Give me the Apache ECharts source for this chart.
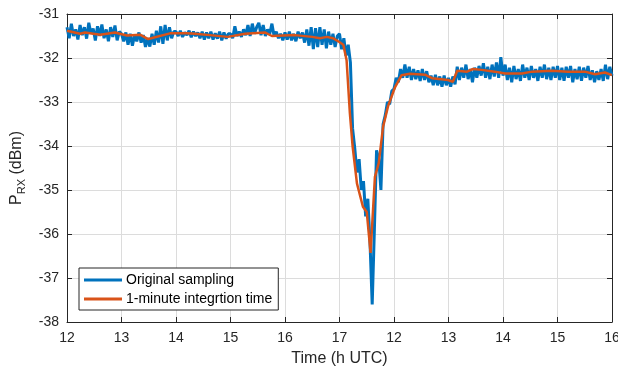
<!DOCTYPE html>
<html>
<head>
<meta charset="utf-8">
<script src="https://cdn.jsdelivr.net/npm/echarts@6/dist/echarts.min.js"></script>
<style>
html,body{margin:0;padding:0;background:#fff;}
#chart{width:618px;height:373px;}
</style>
</head>
<body>
<div id="chart"></div>
<script>
// Tick labels of the time axis (positions 0..10)
var xTickLabels = ['12','13','14','15','16','17','12','13','14','15','16'];
var yTicks = [-38,-37,-36,-35,-34,-33,-32,-31];

// Original sampling: values sampled every blueStep axis units starting at 0
var blueStep = 0.04;
var blueValues = [
 // 0.00 - 0.96
 -31.30,-31.55,-31.22,-31.50,-31.35,-31.58,-31.25,-31.48,-31.30,-31.56,-31.20,-31.45,-31.33,-31.60,-31.28,-31.50,-31.24,-31.55,-31.35,-31.62,-31.30,-31.52,-31.26,-31.60,-31.40,
 // 1.00 - 1.96
 -31.45,-31.62,-31.42,-31.70,-31.45,-31.72,-31.48,-31.62,-31.42,-31.65,-31.48,-31.75,-31.55,-31.74,-31.45,-31.70,-31.38,-31.65,-31.28,-31.68,-31.25,-31.60,-31.30,-31.55,-31.40,
 // 2.00 - 2.96
 -31.40,-31.50,-31.38,-31.52,-31.42,-31.48,-31.38,-31.53,-31.40,-31.50,-31.42,-31.55,-31.40,-31.58,-31.42,-31.55,-31.40,-31.58,-31.44,-31.56,-31.40,-31.60,-31.42,-31.56,-31.45,
 // 3.00 - 3.96
 -31.45,-31.55,-31.28,-31.50,-31.40,-31.52,-31.35,-31.48,-31.25,-31.50,-31.22,-31.45,-31.30,-31.20,-31.48,-31.25,-31.50,-31.35,-31.45,-31.22,-31.50,-31.40,-31.55,-31.45,-31.60,
 // 4.00 - 4.96
 -31.42,-31.58,-31.40,-31.60,-31.45,-31.62,-31.40,-31.55,-31.42,-31.65,-31.35,-31.72,-31.30,-31.80,-31.32,-31.75,-31.30,-31.70,-31.35,-31.78,-31.40,-31.70,-31.45,-31.75,-31.50,
 // 5.00 - 5.96
 -31.45,-31.80,-31.55,-31.95,-31.70,-32.10,-33.60,-34.05,-34.60,-34.30,-35.00,-34.80,-35.60,-35.20,-36.20,-37.60,-35.90,-34.10,-34.30,-35.00,-33.50,-33.30,-33.00,-33.05,-32.75,
 // 6.00 - 6.96
 -32.70,-32.45,-32.55,-32.25,-32.45,-32.15,-32.45,-32.20,-32.50,-32.25,-32.48,-32.28,-32.52,-32.25,-32.50,-32.30,-32.55,-32.40,-32.62,-32.38,-32.62,-32.42,-32.65,-32.40,-32.62,
 // 7.00 - 7.96
 -32.45,-32.65,-32.42,-32.60,-32.20,-32.50,-32.22,-32.45,-32.15,-32.48,-32.25,-32.55,-32.22,-32.45,-32.18,-32.40,-32.12,-32.45,-32.20,-32.48,-32.15,-32.42,-32.10,-32.45,-31.98,
 // 8.00 - 8.96
 -32.40,-32.15,-32.50,-32.22,-32.55,-32.18,-32.48,-32.25,-32.52,-32.15,-32.45,-32.22,-32.50,-32.18,-32.45,-32.25,-32.52,-32.20,-32.45,-32.15,-32.48,-32.22,-32.50,-32.20,-32.45,
 // 9.00 - 10.00
 -32.18,-32.50,-32.22,-32.52,-32.20,-32.45,-32.18,-32.55,-32.25,-32.48,-32.20,-32.52,-32.22,-32.45,-32.18,-32.50,-32.28,-32.55,-32.30,-32.50,-32.25,-32.52,-32.15,-32.48,-32.20,-32.40
];

// 1-minute integration time
var orangeTime = [0,0.24,0.33,0.61,0.88,1.10,1.34,1.49,1.89,2.20,2.35,2.62,2.95,3.27,3.63,3.76,4.18,4.50,4.64,4.77,4.88,4.99,5.07,5.13,5.19,5.24,5.32,5.43,5.50,5.57,5.65,5.72,5.80,5.89,6.02,6.14,6.29,6.57,6.62,6.70,6.99,7.08,7.16,7.34,7.45,7.61,7.85,8.04,8.35,8.53,8.90,9.19,9.50,9.69,9.87,10];
var orangeValue = [-31.38,-31.45,-31.42,-31.47,-31.42,-31.49,-31.47,-31.57,-31.44,-31.44,-31.45,-31.48,-31.52,-31.45,-31.42,-31.50,-31.48,-31.52,-31.55,-31.52,-31.55,-31.63,-31.70,-32.05,-33.25,-34.00,-34.85,-35.38,-35.50,-36.43,-34.70,-34.39,-33.56,-33.10,-32.66,-32.39,-32.36,-32.38,-32.41,-32.46,-32.50,-32.54,-32.29,-32.31,-32.25,-32.27,-32.31,-32.35,-32.35,-32.31,-32.29,-32.31,-32.31,-32.37,-32.33,-32.39];

var blueData = blueValues.map(function(v,i){ return [i*blueStep, v]; });
var orangeData = orangeTime.map(function(t,i){ return [t, orangeValue[i]]; });

var axisColor = '#262626';
var font = 'Liberation Sans, Arial, sans-serif';
var chart = echarts.init(document.getElementById('chart'), null, {renderer:'canvas'});
chart.setOption({
  animation: false,
  backgroundColor: '#fff',
  grid: {left: 67, right: 6, top: 14, bottom: 51, containLabel: false, outerBoundsMode: 'none'},
  legend: {
    data: ['Original sampling','1-minute integrtion time'],
    orient: 'vertical',
    left: 79, top: 268,
    icon: 'rect', itemWidth: 38, itemHeight: 3, itemGap: 5,
    padding: [5, 6, 4, 5],
    borderColor: axisColor, borderWidth: 1,
    backgroundColor: '#fff',
    textStyle: {fontFamily: font, fontSize: 14, color: '#000', padding: [0,0,0,-1]}
  },
  xAxis: [{
    type: 'value', min: 0, max: 10, interval: 1,
    name: 'Time (h UTC)', nameLocation: 'middle', nameGap: 29,
    nameTextStyle: {fontFamily: font, fontSize: 16, color: '#262626'},
    axisLine: {onZero: false, lineStyle: {color: axisColor, width: 1}},
    axisTick: {inside: true, length: 5, lineStyle: {color: axisColor}},
    axisLabel: {margin: 9, fontFamily: font, fontSize: 14, color: '#262626',
      formatter: function(v){ return xTickLabels[Math.round(v)]; }},
    splitLine: {show: true, lineStyle: {color: '#dcdcdc', width: 1}}
  },{
    type: 'value', min: 0, max: 10, interval: 1, position: 'top',
    axisLine: {onZero: false, lineStyle: {color: axisColor, width: 1}},
    axisTick: {inside: true, length: 5, lineStyle: {color: axisColor}},
    axisLabel: {show: false}, splitLine: {show: false}
  }],
  yAxis: [{
    type: 'value', min: -38, max: -31, interval: 1,
    name: '{a|P}{b|RX}{a| (dBm)}', nameLocation: 'middle', nameGap: 36,
    nameTextStyle: {
      rich: {
        a: {fontFamily: font, fontSize: 16, color: '#262626', lineHeight: 22, verticalAlign: 'middle'},
        b: {fontFamily: font, fontSize: 11, color: '#262626', lineHeight: 11, verticalAlign: 'bottom'}
      }
    },
    axisLine: {onZero: false, lineStyle: {color: axisColor, width: 1}},
    axisTick: {inside: true, length: 5, lineStyle: {color: axisColor}},
    axisLabel: {margin: 8, fontFamily: font, fontSize: 14, color: '#262626',
      formatter: function(v){ return yTicks.indexOf(v) >= 0 ? String(v) : ''; }},
    splitLine: {show: true, lineStyle: {color: '#dcdcdc', width: 1}}
  },{
    type: 'value', min: -38, max: -31, interval: 1, position: 'right',
    axisLine: {onZero: false, lineStyle: {color: axisColor, width: 1}},
    axisTick: {inside: true, length: 5, lineStyle: {color: axisColor}},
    axisLabel: {show: false}, splitLine: {show: false}
  }],
  series: [{
    name: 'Original sampling', type: 'line', data: blueData,
    showSymbol: false, symbol: 'none', clip: true,
    lineStyle: {color: '#0072BD', width: 3},
    itemStyle: {color: '#0072BD'}, z: 2
  },{
    name: '1-minute integrtion time', type: 'line', data: orangeData,
    showSymbol: false, symbol: 'none', clip: true,
    lineStyle: {color: '#D95319', width: 2.5},
    itemStyle: {color: '#D95319'}, z: 3
  }]
});
</script>
</body>
</html>
